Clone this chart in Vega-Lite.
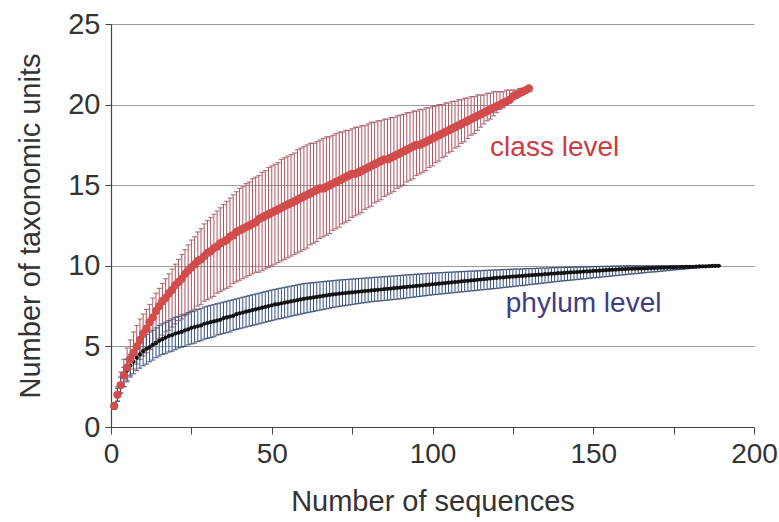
{
"$schema":"https://vega.github.io/schema/vega-lite/v6.json",
"autosize":{"type":"none"},
"padding":{"left":111,"top":24,"right":25,"bottom":95},
"width":643,"height":403,
"background":"white",
"config":{"view":{"stroke":null},"font":"Liberation Sans"},
"datasets":{
"cls":[
{"n":1,"m":1.3,"lo":1.1,"hi":1.5},{"n":2,"m":2.0,"lo":1.6,"hi":2.5},{"n":3,"m":2.6,"lo":2.1,"hi":3.4},{"n":4,"m":3.2,"lo":2.5,"hi":4.2},{"n":5,"m":3.7,"lo":2.9,"hi":4.9},
{"n":6,"m":4.2,"lo":3.2,"hi":5.4},{"n":7,"m":4.6,"lo":3.6,"hi":5.9},{"n":8,"m":5.0,"lo":3.9,"hi":6.3},{"n":9,"m":5.4,"lo":4.2,"hi":6.7},{"n":10,"m":5.8,"lo":4.4,"hi":7.0},
{"n":11,"m":6.1,"lo":4.6,"hi":7.3},{"n":12,"m":6.5,"lo":4.8,"hi":7.6},{"n":13,"m":6.8,"lo":5.1,"hi":8.0},{"n":14,"m":7.2,"lo":5.3,"hi":8.3},{"n":15,"m":7.5,"lo":5.5,"hi":8.6},
{"n":16,"m":7.8,"lo":5.7,"hi":8.9},{"n":17,"m":8.0,"lo":5.9,"hi":9.2},{"n":18,"m":8.3,"lo":6.0,"hi":9.5},{"n":19,"m":8.5,"lo":6.2,"hi":9.8},{"n":20,"m":8.8,"lo":6.4,"hi":10.1},
{"n":21,"m":9.0,"lo":6.6,"hi":10.4},{"n":22,"m":9.2,"lo":6.7,"hi":10.7},{"n":23,"m":9.5,"lo":6.9,"hi":11.0},{"n":24,"m":9.7,"lo":7.0,"hi":11.3},{"n":25,"m":9.9,"lo":7.2,"hi":11.6},
{"n":26,"m":10.1,"lo":7.3,"hi":11.8},{"n":27,"m":10.3,"lo":7.5,"hi":12.1},{"n":28,"m":10.4,"lo":7.6,"hi":12.3},{"n":29,"m":10.6,"lo":7.8,"hi":12.6},{"n":30,"m":10.8,"lo":7.9,"hi":12.8},
{"n":31,"m":10.9,"lo":8.0,"hi":13.0},{"n":32,"m":11.1,"lo":8.1,"hi":13.2},{"n":33,"m":11.2,"lo":8.3,"hi":13.4},{"n":34,"m":11.4,"lo":8.4,"hi":13.6},{"n":35,"m":11.5,"lo":8.5,"hi":13.8},
{"n":36,"m":11.6,"lo":8.6,"hi":14.0},{"n":37,"m":11.8,"lo":8.7,"hi":14.2},{"n":38,"m":11.9,"lo":8.9,"hi":14.4},{"n":39,"m":12.1,"lo":9.0,"hi":14.6},{"n":40,"m":12.2,"lo":9.1,"hi":14.8},
{"n":41,"m":12.3,"lo":9.2,"hi":14.9},{"n":42,"m":12.4,"lo":9.3,"hi":15.1},{"n":43,"m":12.5,"lo":9.4,"hi":15.2},{"n":44,"m":12.6,"lo":9.5,"hi":15.4},{"n":45,"m":12.7,"lo":9.6,"hi":15.5},
{"n":46,"m":12.9,"lo":9.6,"hi":15.6},{"n":47,"m":13.0,"lo":9.7,"hi":15.8},{"n":48,"m":13.1,"lo":9.8,"hi":15.9},{"n":49,"m":13.2,"lo":9.9,"hi":16.1},{"n":50,"m":13.3,"lo":10.0,"hi":16.2},
{"n":51,"m":13.4,"lo":10.1,"hi":16.3},{"n":52,"m":13.5,"lo":10.2,"hi":16.4},{"n":53,"m":13.6,"lo":10.3,"hi":16.6},{"n":54,"m":13.7,"lo":10.4,"hi":16.7},{"n":55,"m":13.8,"lo":10.5,"hi":16.8},
{"n":56,"m":13.9,"lo":10.6,"hi":16.9},{"n":57,"m":14.0,"lo":10.7,"hi":17.0},{"n":58,"m":14.1,"lo":10.8,"hi":17.2},{"n":59,"m":14.2,"lo":10.9,"hi":17.3},{"n":60,"m":14.3,"lo":11.0,"hi":17.4},
{"n":61,"m":14.4,"lo":11.1,"hi":17.5},{"n":62,"m":14.5,"lo":11.3,"hi":17.6},{"n":63,"m":14.6,"lo":11.4,"hi":17.6},{"n":64,"m":14.7,"lo":11.5,"hi":17.7},{"n":65,"m":14.8,"lo":11.7,"hi":17.8},
{"n":66,"m":14.8,"lo":11.8,"hi":17.9},{"n":67,"m":14.9,"lo":11.9,"hi":18.0},{"n":68,"m":15.0,"lo":12.0,"hi":18.0},{"n":69,"m":15.1,"lo":12.2,"hi":18.1},{"n":70,"m":15.2,"lo":12.3,"hi":18.2},
{"n":71,"m":15.3,"lo":12.4,"hi":18.3},{"n":72,"m":15.4,"lo":12.6,"hi":18.3},{"n":73,"m":15.5,"lo":12.7,"hi":18.4},{"n":74,"m":15.6,"lo":12.8,"hi":18.4},{"n":75,"m":15.7,"lo":13.0,"hi":18.5},
{"n":76,"m":15.7,"lo":13.1,"hi":18.6},{"n":77,"m":15.8,"lo":13.2,"hi":18.6},{"n":78,"m":15.9,"lo":13.3,"hi":18.7},{"n":79,"m":16.0,"lo":13.5,"hi":18.7},{"n":80,"m":16.1,"lo":13.6,"hi":18.8},
{"n":81,"m":16.2,"lo":13.7,"hi":18.9},{"n":82,"m":16.3,"lo":13.9,"hi":18.9},{"n":83,"m":16.4,"lo":14.0,"hi":19.0},{"n":84,"m":16.5,"lo":14.1,"hi":19.0},{"n":85,"m":16.6,"lo":14.3,"hi":19.1},
{"n":86,"m":16.6,"lo":14.4,"hi":19.1},{"n":87,"m":16.7,"lo":14.5,"hi":19.2},{"n":88,"m":16.8,"lo":14.6,"hi":19.2},{"n":89,"m":16.9,"lo":14.8,"hi":19.3},{"n":90,"m":17.0,"lo":14.9,"hi":19.35},
{"n":91,"m":17.1,"lo":15.0,"hi":19.4},{"n":92,"m":17.2,"lo":15.2,"hi":19.5},{"n":93,"m":17.3,"lo":15.3,"hi":19.5},{"n":94,"m":17.4,"lo":15.4,"hi":19.6},{"n":95,"m":17.5,"lo":15.6,"hi":19.6},
{"n":96,"m":17.5,"lo":15.7,"hi":19.7},{"n":97,"m":17.6,"lo":15.8,"hi":19.7},{"n":98,"m":17.7,"lo":15.9,"hi":19.8},{"n":99,"m":17.8,"lo":16.1,"hi":19.8},{"n":100,"m":17.9,"lo":16.2,"hi":19.9},
{"n":101,"m":18.0,"lo":16.4,"hi":19.9},{"n":102,"m":18.1,"lo":16.5,"hi":20.0},{"n":103,"m":18.2,"lo":16.7,"hi":20.0},{"n":104,"m":18.3,"lo":16.8,"hi":20.1},{"n":105,"m":18.4,"lo":17.0,"hi":20.1},
{"n":106,"m":18.5,"lo":17.1,"hi":20.2},{"n":107,"m":18.6,"lo":17.3,"hi":20.2},{"n":108,"m":18.7,"lo":17.4,"hi":20.3},{"n":109,"m":18.8,"lo":17.6,"hi":20.3},{"n":110,"m":18.9,"lo":17.7,"hi":20.4},
{"n":111,"m":19.0,"lo":17.9,"hi":20.4},{"n":112,"m":19.1,"lo":18.1,"hi":20.5},{"n":113,"m":19.2,"lo":18.2,"hi":20.5},{"n":114,"m":19.3,"lo":18.4,"hi":20.6},{"n":115,"m":19.4,"lo":18.6,"hi":20.6},
{"n":116,"m":19.5,"lo":18.8,"hi":20.6},{"n":117,"m":19.6,"lo":19.0,"hi":20.7},{"n":118,"m":19.7,"lo":19.1,"hi":20.7},{"n":119,"m":19.8,"lo":19.3,"hi":20.8},{"n":120,"m":19.9,"lo":19.5,"hi":20.8},
{"n":121,"m":20.0,"lo":19.7,"hi":20.8},{"n":122,"m":20.1,"lo":19.8,"hi":20.8},{"n":123,"m":20.2,"lo":20.0,"hi":20.9},{"n":124,"m":20.3,"lo":20.1,"hi":20.9},{"n":125,"m":20.5,"lo":20.3,"hi":20.9},
{"n":126,"m":20.6,"lo":20.4,"hi":20.9},{"n":127,"m":20.7,"lo":20.6,"hi":21.0},{"n":128,"m":20.8,"lo":20.7,"hi":21.0},{"n":129,"m":20.9,"lo":20.9,"hi":21.0},{"n":130,"m":21.0,"lo":21.0,"hi":21.0}
],
"phy":[
{"n":1,"m":1.3,"lo":1.1,"hi":1.5},{"n":2,"m":2.0,"lo":1.6,"hi":2.4},{"n":3,"m":2.6,"lo":2.1,"hi":3.1},{"n":4,"m":3.1,"lo":2.5,"hi":3.7},{"n":5,"m":3.5,"lo":2.8,"hi":4.2},
{"n":6,"m":3.8,"lo":3.1,"hi":4.5},{"n":7,"m":4.05,"lo":3.3,"hi":4.8},{"n":8,"m":4.3,"lo":3.5,"hi":5.1},{"n":9,"m":4.5,"lo":3.65,"hi":5.35},{"n":10,"m":4.7,"lo":3.8,"hi":5.6},
{"n":11,"m":4.85,"lo":3.9,"hi":5.75},{"n":12,"m":4.95,"lo":4.05,"hi":5.9},{"n":13,"m":5.1,"lo":4.15,"hi":6.0},{"n":14,"m":5.2,"lo":4.3,"hi":6.15},{"n":15,"m":5.35,"lo":4.4,"hi":6.3},
{"n":16,"m":5.45,"lo":4.5,"hi":6.4},{"n":17,"m":5.55,"lo":4.55,"hi":6.5},{"n":18,"m":5.65,"lo":4.65,"hi":6.6},{"n":19,"m":5.7,"lo":4.7,"hi":6.7},{"n":20,"m":5.8,"lo":4.8,"hi":6.8},
{"n":21,"m":5.85,"lo":4.9,"hi":6.85},{"n":22,"m":5.9,"lo":4.95,"hi":6.95},{"n":23,"m":6.0,"lo":5.0,"hi":7.0},{"n":24,"m":6.05,"lo":5.1,"hi":7.1},{"n":25,"m":6.15,"lo":5.15,"hi":7.15},
{"n":26,"m":6.2,"lo":5.2,"hi":7.2},{"n":27,"m":6.25,"lo":5.3,"hi":7.3},{"n":28,"m":6.3,"lo":5.35,"hi":7.35},{"n":29,"m":6.4,"lo":5.45,"hi":7.45},{"n":30,"m":6.45,"lo":5.5,"hi":7.5},
{"n":31,"m":6.5,"lo":5.55,"hi":7.55},{"n":32,"m":6.55,"lo":5.6,"hi":7.6},{"n":33,"m":6.6,"lo":5.7,"hi":7.65},{"n":34,"m":6.65,"lo":5.75,"hi":7.7},{"n":35,"m":6.75,"lo":5.8,"hi":7.75},
{"n":36,"m":6.8,"lo":5.85,"hi":7.8},{"n":37,"m":6.85,"lo":5.9,"hi":7.85},{"n":38,"m":6.9,"lo":6.0,"hi":7.9},{"n":39,"m":7.0,"lo":6.05,"hi":7.95},{"n":40,"m":7.05,"lo":6.1,"hi":8.0},
{"n":41,"m":7.1,"lo":6.15,"hi":8.05},{"n":42,"m":7.15,"lo":6.2,"hi":8.1},{"n":43,"m":7.2,"lo":6.25,"hi":8.15},{"n":44,"m":7.25,"lo":6.3,"hi":8.2},{"n":45,"m":7.3,"lo":6.35,"hi":8.25},
{"n":46,"m":7.35,"lo":6.4,"hi":8.3},{"n":47,"m":7.4,"lo":6.45,"hi":8.35},{"n":48,"m":7.45,"lo":6.5,"hi":8.4},{"n":49,"m":7.5,"lo":6.55,"hi":8.45},{"n":50,"m":7.55,"lo":6.6,"hi":8.5},
{"n":51,"m":7.6,"lo":6.65,"hi":8.54},{"n":52,"m":7.63,"lo":6.7,"hi":8.58},{"n":53,"m":7.67,"lo":6.73,"hi":8.62},{"n":54,"m":7.71,"lo":6.78,"hi":8.66},{"n":55,"m":7.75,"lo":6.82,"hi":8.7},
{"n":56,"m":7.79,"lo":6.87,"hi":8.74},{"n":57,"m":7.83,"lo":6.92,"hi":8.78},{"n":58,"m":7.87,"lo":6.96,"hi":8.82},{"n":59,"m":7.91,"lo":7.0,"hi":8.86},{"n":60,"m":7.95,"lo":7.05,"hi":8.9},
{"n":61,"m":7.98,"lo":7.09,"hi":8.92},{"n":62,"m":8.01,"lo":7.13,"hi":8.94},{"n":63,"m":8.04,"lo":7.17,"hi":8.96},{"n":64,"m":8.07,"lo":7.21,"hi":8.98},{"n":65,"m":8.1,"lo":7.25,"hi":9.0},
{"n":66,"m":8.13,"lo":7.29,"hi":9.02},{"n":67,"m":8.16,"lo":7.33,"hi":9.04},{"n":68,"m":8.19,"lo":7.37,"hi":9.06},{"n":69,"m":8.22,"lo":7.41,"hi":9.08},{"n":70,"m":8.25,"lo":7.45,"hi":9.1},
{"n":71,"m":8.27,"lo":7.48,"hi":9.12},{"n":72,"m":8.29,"lo":7.51,"hi":9.13},{"n":73,"m":8.31,"lo":7.54,"hi":9.15},{"n":74,"m":8.33,"lo":7.57,"hi":9.16},{"n":75,"m":8.35,"lo":7.6,"hi":9.18},
{"n":76,"m":8.37,"lo":7.63,"hi":9.19},{"n":77,"m":8.39,"lo":7.66,"hi":9.21},{"n":78,"m":8.41,"lo":7.69,"hi":9.22},{"n":79,"m":8.43,"lo":7.72,"hi":9.24},{"n":80,"m":8.45,"lo":7.75,"hi":9.25},
{"n":81,"m":8.47,"lo":7.77,"hi":9.27},{"n":82,"m":8.49,"lo":7.79,"hi":9.28},{"n":83,"m":8.51,"lo":7.81,"hi":9.3},{"n":84,"m":8.53,"lo":7.83,"hi":9.31},{"n":85,"m":8.55,"lo":7.85,"hi":9.33},
{"n":86,"m":8.57,"lo":7.87,"hi":9.34},{"n":87,"m":8.59,"lo":7.89,"hi":9.36},{"n":88,"m":8.61,"lo":7.91,"hi":9.37},{"n":89,"m":8.63,"lo":7.93,"hi":9.39},{"n":90,"m":8.65,"lo":7.95,"hi":9.4},
{"n":91,"m":8.67,"lo":7.98,"hi":9.42},{"n":92,"m":8.69,"lo":8.0,"hi":9.43},{"n":93,"m":8.71,"lo":8.03,"hi":9.45},{"n":94,"m":8.73,"lo":8.05,"hi":9.46},{"n":95,"m":8.75,"lo":8.08,"hi":9.48},
{"n":96,"m":8.77,"lo":8.1,"hi":9.49},{"n":97,"m":8.79,"lo":8.13,"hi":9.51},{"n":98,"m":8.81,"lo":8.15,"hi":9.52},{"n":99,"m":8.83,"lo":8.18,"hi":9.54},{"n":100,"m":8.85,"lo":8.2,"hi":9.55},
{"n":101,"m":8.87,"lo":8.22,"hi":9.56},{"n":102,"m":8.89,"lo":8.24,"hi":9.57},{"n":103,"m":8.91,"lo":8.26,"hi":9.58},{"n":104,"m":8.93,"lo":8.28,"hi":9.59},{"n":105,"m":8.95,"lo":8.3,"hi":9.6},
{"n":106,"m":8.97,"lo":8.32,"hi":9.61},{"n":107,"m":8.99,"lo":8.34,"hi":9.62},{"n":108,"m":9.01,"lo":8.36,"hi":9.63},{"n":109,"m":9.03,"lo":8.38,"hi":9.64},{"n":110,"m":9.05,"lo":8.4,"hi":9.65},
{"n":111,"m":9.07,"lo":8.42,"hi":9.66},{"n":112,"m":9.09,"lo":8.44,"hi":9.67},{"n":113,"m":9.11,"lo":8.46,"hi":9.68},{"n":114,"m":9.13,"lo":8.48,"hi":9.69},{"n":115,"m":9.15,"lo":8.5,"hi":9.7},
{"n":116,"m":9.17,"lo":8.52,"hi":9.71},{"n":117,"m":9.19,"lo":8.54,"hi":9.72},{"n":118,"m":9.21,"lo":8.56,"hi":9.73},{"n":119,"m":9.23,"lo":8.58,"hi":9.74},{"n":120,"m":9.25,"lo":8.6,"hi":9.75},
{"n":121,"m":9.27,"lo":8.62,"hi":9.76},{"n":122,"m":9.28,"lo":8.65,"hi":9.77},{"n":123,"m":9.3,"lo":8.67,"hi":9.77},{"n":124,"m":9.31,"lo":8.69,"hi":9.78},{"n":125,"m":9.33,"lo":8.71,"hi":9.79},
{"n":126,"m":9.34,"lo":8.74,"hi":9.8},{"n":127,"m":9.36,"lo":8.76,"hi":9.8},{"n":128,"m":9.37,"lo":8.78,"hi":9.81},{"n":129,"m":9.39,"lo":8.8,"hi":9.82},{"n":130,"m":9.4,"lo":8.83,"hi":9.83},
{"n":131,"m":9.42,"lo":8.85,"hi":9.83},{"n":132,"m":9.43,"lo":8.87,"hi":9.84},{"n":133,"m":9.45,"lo":8.89,"hi":9.85},{"n":134,"m":9.46,"lo":8.92,"hi":9.86},{"n":135,"m":9.48,"lo":8.94,"hi":9.86},
{"n":136,"m":9.49,"lo":8.96,"hi":9.87},{"n":137,"m":9.51,"lo":8.98,"hi":9.88},{"n":138,"m":9.52,"lo":9.01,"hi":9.89},{"n":139,"m":9.54,"lo":9.03,"hi":9.89},{"n":140,"m":9.55,"lo":9.05,"hi":9.9},
{"n":141,"m":9.56,"lo":9.07,"hi":9.9},{"n":142,"m":9.58,"lo":9.09,"hi":9.91},{"n":143,"m":9.59,"lo":9.11,"hi":9.91},{"n":144,"m":9.6,"lo":9.13,"hi":9.92},{"n":145,"m":9.61,"lo":9.15,"hi":9.92},
{"n":146,"m":9.63,"lo":9.17,"hi":9.93},{"n":147,"m":9.64,"lo":9.19,"hi":9.93},{"n":148,"m":9.65,"lo":9.21,"hi":9.94},{"n":149,"m":9.66,"lo":9.23,"hi":9.94},{"n":150,"m":9.68,"lo":9.25,"hi":9.95},
{"n":151,"m":9.69,"lo":9.27,"hi":9.95},{"n":152,"m":9.7,"lo":9.29,"hi":9.96},{"n":153,"m":9.71,"lo":9.31,"hi":9.96},{"n":154,"m":9.73,"lo":9.33,"hi":9.97},{"n":155,"m":9.74,"lo":9.35,"hi":9.97},
{"n":156,"m":9.75,"lo":9.37,"hi":9.98},{"n":157,"m":9.76,"lo":9.39,"hi":9.98},{"n":158,"m":9.78,"lo":9.41,"hi":9.99},{"n":159,"m":9.79,"lo":9.43,"hi":9.99},{"n":160,"m":9.8,"lo":9.45,"hi":10},
{"n":161,"m":9.81,"lo":9.47,"hi":10},{"n":162,"m":9.81,"lo":9.49,"hi":10},{"n":163,"m":9.82,"lo":9.51,"hi":10},{"n":164,"m":9.83,"lo":9.53,"hi":10},{"n":165,"m":9.83,"lo":9.55,"hi":10},
{"n":166,"m":9.84,"lo":9.57,"hi":10},{"n":167,"m":9.85,"lo":9.59,"hi":10},{"n":168,"m":9.86,"lo":9.61,"hi":10},{"n":169,"m":9.86,"lo":9.62,"hi":10},{"n":170,"m":9.87,"lo":9.64,"hi":10},
{"n":171,"m":9.88,"lo":9.66,"hi":10},{"n":172,"m":9.88,"lo":9.68,"hi":10},{"n":173,"m":9.89,"lo":9.7,"hi":10},{"n":174,"m":9.9,"lo":9.72,"hi":10},{"n":175,"m":9.9,"lo":9.74,"hi":10},
{"n":176,"m":9.91,"lo":9.76,"hi":10},{"n":177,"m":9.92,"lo":9.78,"hi":10},{"n":178,"m":9.92,"lo":9.79,"hi":10},{"n":179,"m":9.93,"lo":9.81,"hi":10},{"n":180,"m":9.94,"lo":9.83,"hi":10},
{"n":181,"m":9.94,"lo":9.85,"hi":10},{"n":182,"m":9.95,"lo":9.87,"hi":10},{"n":183,"m":9.96,"lo":9.89,"hi":10},{"n":184,"m":9.97,"lo":9.91,"hi":10},{"n":185,"m":9.97,"lo":9.93,"hi":10},
{"n":186,"m":9.98,"lo":9.94,"hi":10},{"n":187,"m":9.99,"lo":9.96,"hi":10},{"n":188,"m":9.99,"lo":9.98,"hi":10},{"n":189,"m":10,"lo":10,"hi":10}
]
},
"layer":[
{"data":{"name":"cls"},
 "mark":{"type":"errorbar","color":"#a85560","thickness":1,"ticks":{"size":5,"color":"#954550","thickness":1.2}},
 "encoding":{
  "x":{"field":"n","type":"quantitative","title":"Number of sequences","scale":{"domain":[0,200],"nice":false},
   "axis":{"values":[0,25,50,75,100,125,150,175,200],"labelExpr":"datum.value % 50 === 0 ? datum.label : ''","title":"Number of sequences","grid":false,"domainColor":"#444","domainWidth":1.2,"tickColor":"#444","tickSize":7,"labelFontSize":28,"labelColor":"#333","labelPadding":6,"titleFontSize":29,"titleFontWeight":"normal","titleColor":"#333","titlePadding":19,"labelFlush":false}},
  "y":{"field":"lo","type":"quantitative","title":"Number of taxonomic units","scale":{"domain":[0,25],"nice":false},
   "axis":{"values":[0,5,10,15,20,25],"title":"Number of taxonomic units","grid":true,"gridColor":"#9a9a9a","gridWidth":1.2,"domainColor":"#444","domainWidth":1.2,"tickColor":"#444","tickSize":6,"labelFontSize":29,"labelColor":"#333","labelPadding":5,"titleFontSize":29,"titleFontWeight":"normal","titleColor":"#333","titlePadding":22}},
  "y2":{"field":"hi"}
 }},
{"data":{"name":"phy"},
 "mark":{"type":"errorbar","color":"#35527e","thickness":1,"ticks":{"size":5,"color":"#22385f","thickness":1.2}},
 "encoding":{
  "x":{"field":"n","type":"quantitative","title":"Number of sequences"},
  "y":{"field":"lo","type":"quantitative","title":"Number of taxonomic units"},
  "y2":{"field":"hi"}
 }},
{"data":{"name":"phy"},
 "mark":{"type":"point","filled":true,"color":"#111111","size":18,"opacity":1},
 "encoding":{"x":{"field":"n","type":"quantitative","title":"Number of sequences"},"y":{"field":"m","type":"quantitative","title":"Number of taxonomic units"}}},
{"data":{"name":"cls"},
 "mark":{"type":"point","filled":true,"color":"#d24c4c","size":70,"opacity":1},
 "encoding":{"x":{"field":"n","type":"quantitative","title":"Number of sequences"},"y":{"field":"m","type":"quantitative","title":"Number of taxonomic units"}}},
{"data":{"values":[{"x":138,"y":17.3,"t":"class level"}]},
 "mark":{"type":"text","color":"#cc3b40","fontSize":28,"align":"center","baseline":"middle"},
 "encoding":{"x":{"field":"x","type":"quantitative","title":"Number of sequences"},"y":{"field":"y","type":"quantitative","title":"Number of taxonomic units"},"text":{"field":"t"}}},
{"data":{"values":[{"x":147,"y":7.6,"t":"phylum level"}]},
 "mark":{"type":"text","color":"#3f3c85","fontSize":28,"align":"center","baseline":"middle"},
 "encoding":{"x":{"field":"x","type":"quantitative","title":"Number of sequences"},"y":{"field":"y","type":"quantitative","title":"Number of taxonomic units"},"text":{"field":"t"}}}
]
}
